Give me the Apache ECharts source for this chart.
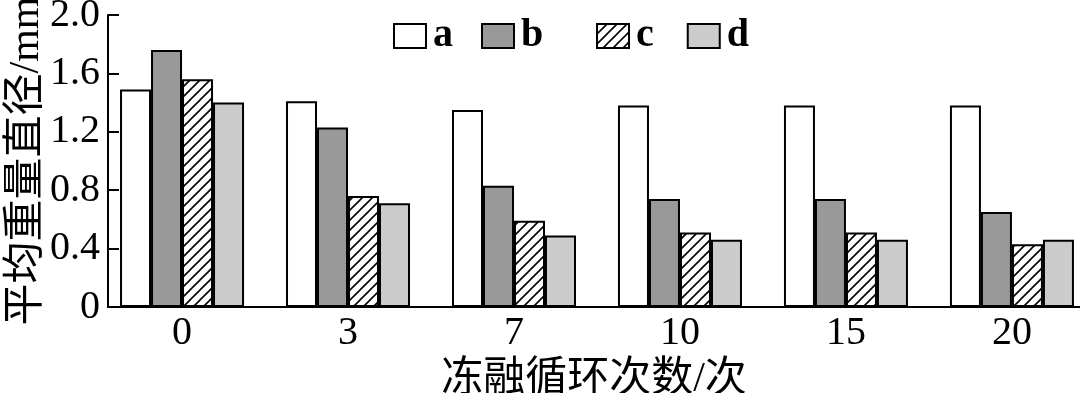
<!DOCTYPE html>
<html><head><meta charset="utf-8">
<script src="https://cdn.jsdelivr.net/npm/echarts@6/dist/echarts.min.js"></script>
<style>html,body{margin:0;padding:0;background:#fff}#c{width:1080px;height:393px}</style>
</head><body><div id="c"></div>
<script>
var categories = ['0', '3', '7', '10', '15', '20'];
var seriesA = [1.49, 1.41, 1.35, 1.38, 1.38, 1.38];
var seriesB = [1.76, 1.23, 0.83, 0.74, 0.74, 0.65];
var seriesC = [1.56, 0.76, 0.59, 0.51, 0.51, 0.43];
var seriesD = [1.40, 0.71, 0.49, 0.46, 0.46, 0.46];
var seriesNames = ['a', 'b', 'c', 'd'];
var yTicks = [0, 0.4, 0.8, 1.2, 1.6, 2.0];

function hatch() {
  var cv = document.createElement('canvas');
  cv.width = 10; cv.height = 10;
  var g = cv.getContext('2d');
  g.fillStyle = '#fff'; g.fillRect(0, 0, 10, 10);
  g.strokeStyle = '#000'; g.lineWidth = 1.6;
  g.beginPath();
  g.moveTo(-5, 5); g.lineTo(5, -5);
  g.moveTo(0, 10); g.lineTo(10, 0);
  g.moveTo(5, 15); g.lineTo(15, 5);
  g.stroke();
  return {image: cv, repeat: 'repeat'};
}
var fills = ['#ffffff', '#999999', hatch(), '#cccccc'];
var allData = [seriesA, seriesB, seriesC, seriesD];
var serifFont = '"Liberation Serif", "Times New Roman", "Noto Sans CJK SC", serif';

var chart = echarts.init(document.getElementById('c'), null, {renderer: 'canvas'});
var series = allData.map(function (arr, k) {
  return {
    name: seriesNames[k], type: 'bar', barWidth: 31, barGap: '0%',
    data: arr.map(function (v, i) { return [i, v]; }),
    itemStyle: {color: fills[k], borderColor: '#000', borderWidth: 2},
    emphasis: {disabled: true}, animation: false
  };
});
var legendCommon = {
  top: 11, itemWidth: 32, itemHeight: 24, itemGap: 28, icon: 'rect',
  textStyle: {fontSize: 40, fontWeight: 'bold', color: '#000', fontFamily: serifFont, padding: [0, 0, 0, 2]},
  selectedMode: false
};
chart.setOption({
  animation: false,
  legend: [
    Object.assign({}, legendCommon, {left: 388, data: ['a', 'b']}),
    Object.assign({}, legendCommon, {left: 591, itemGap: 33, data: ['c', 'd']})
  ],
  grid: {left: 108, right: 0, top: 15, bottom: 86, containLabel: false, outerBoundsMode: 'none'},
  xAxis: {
    type: 'value', min: -0.446, max: 5.41,
    name: '冻融循环次数/次', nameLocation: 'middle', nameGap: 52, nameMoveOverlap: false,
    nameTextStyle: {fontSize: 42, color: '#000', fontFamily: serifFont},
    axisLine: {show: true, onZero: false, lineStyle: {color: '#000', width: 2}},
    axisTick: {show: false},
    splitLine: {show: false},
    axisLabel: {
      customValues: [0, 1, 2, 3, 4, 5],
      formatter: function (v) { return categories[Math.round(v)]; },
      fontSize: 40, color: '#000', fontFamily: serifFont, margin: 6
    }
  },
  yAxis: {
    type: 'value', min: 0, max: 2.0, interval: 0.4,
    name: '平均重量直径/mm', nameLocation: 'middle', nameGap: 60, nameMoveOverlap: false,
    nameTextStyle: {fontSize: 42, color: '#000', fontFamily: serifFont},
    axisLine: {show: true, onZero: false, lineStyle: {color: '#000', width: 2}},
    axisTick: {show: true, inside: true, length: 11, lineStyle: {color: '#000', width: 2}},
    splitLine: {show: false},
    axisLabel: {
      fontSize: 40, color: '#000', fontFamily: serifFont, margin: 8,
      formatter: function (v) {
        var t = yTicks.filter(function (x) { return Math.abs(x - v) < 1e-6; })[0];
        return t === 0 ? '0' : (t !== undefined ? t.toFixed(1) : '');
      }
    }
  },
  series: series
});
</script></body></html>
